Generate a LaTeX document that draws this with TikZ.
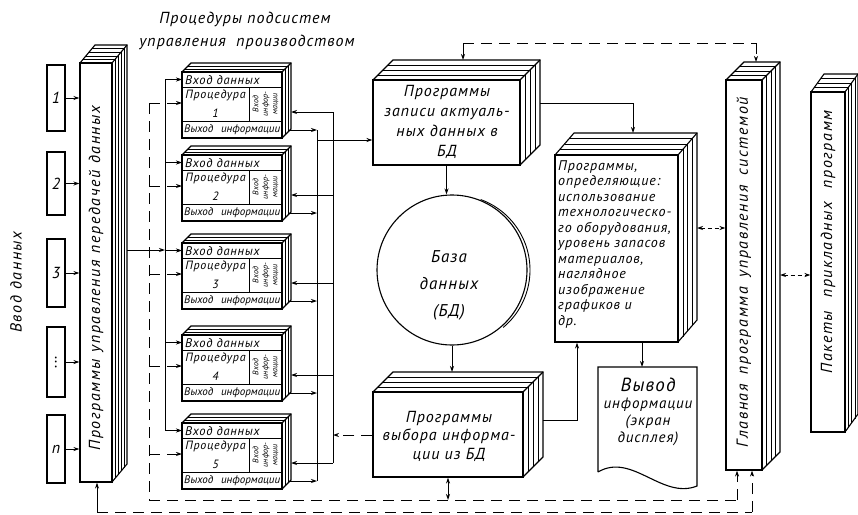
\documentclass[tikz,border=0pt]{standalone}
\usepackage{fontspec}
\usepackage{graphicx}
\setmainfont{PT Sans}
\newfontfamily\lsf[LetterSpace=6]{PT Sans}
\newfontfamily\lsw[LetterSpace=10]{PT Sans}
\usetikzlibrary{calc,fit,arrows.meta}

\tikzset{
 face/.style={draw, line width=1.1pt, inner sep=0pt, fill=white},
 pg/.style={line width=0.5pt},
 edge3d/.style={line width=1.1pt},
 ln/.style={line width=0.9pt},
 arr/.style={line width=0.9pt, -{Stealth[length=6pt,width=4pt]}},
 dln/.style={line width=0.9pt, dash pattern=on 11pt off 7pt},
 darr/.style={dln, -{Stealth[length=6pt,width=4pt]}},
 dbl/.style={line width=0.9pt, dash pattern=on 4pt off 3pt, {Stealth[length=6pt,width=4pt]}-{Stealth[length=6pt,width=4pt]}},
 sbl/.style={line width=0.9pt, {Stealth[length=6pt,width=4pt]}-{Stealth[length=6pt,width=4pt]}},
 ft7/.style={font=\itshape\fontsize{8}{9.5}\selectfont, inner sep=0pt},
 ft12/.style={font=\lsf\itshape\fontsize{12.5}{12}\selectfont, inner sep=0pt},
 ft13/.style={font=\lsf\itshape\fontsize{12}{19}\selectfont, inner sep=0pt},
 ftr/.style={font=\lsf\itshape\fontsize{14}{15.5}\selectfont, inner sep=0pt},
 ft16/.style={font=\lsw\itshape\fontsize{16}{18}\selectfont, inner sep=0pt},
 ftb/.style={font=\lsf\itshape\fontsize{16}{20}\selectfont, inner sep=0pt},
}

% name, x1, y1, x2, y2, dx, dy, pages
\newcommand\stackbox[8]{%
 \coordinate (#1-nw) at (#2,#3);
 \coordinate (#1-se) at (#4,#5);
 \coordinate (#1-top) at ({#2+#6},{#3-#7});
 \foreach \k in {1,...,#8}{
   \draw[pg] ({#2+\k*#6/(#8+1)},{#3-\k*#7/(#8+1)}) -- ({#4+\k*#6/(#8+1)},{#3-\k*#7/(#8+1)}) -- ({#4+\k*#6/(#8+1)},{#5-\k*#7/(#8+1)});
 }
 \draw[edge3d] (#2,#3) -- ({#2+#6},{#3-#7}) -- ({#4+#6},{#3-#7}) -- ({#4+#6},{#5-#7}) -- (#4,#5);
 \draw[edge3d] (#4,#3) -- ({#4+#6},{#3-#7});
 \node[face, fit=(#1-nw)(#1-se)] (#1) {};
}

% name, top y, number
\newcommand\procbox[3]{%
 \stackbox{#1}{182}{#2}{282}{#2+66}{9}{9}{2}
 \draw[ln] (182,{#2+15}) -- (282,{#2+15});
 \draw[ln] (182,{#2+49}) -- (282,{#2+49});
 \draw[ln] (249,{#2+15}) -- (249,{#2+49});
 \node[ft12, anchor=west] (#1-t1) at (185,{#2+8}) {Вход данных};
 \node[ft13, align=center] (#1-t2) at (215.5,{#2+32}) {Процедура\\#3};
 \node[ft7, rotate=90, align=center] (#1-t3) at (265.5,{#2+32}) {Вход\\инфор-\\мации};
 \node[font=\itshape\fontsize{11}{11}\selectfont, inner sep=0pt, anchor=west] (#1-t4) at (184,{#2+58}) {\makebox[96pt][s]{Выход информации}};
 \coordinate (#1-a) at (182,{#2+7.5});
 \coordinate (#1-b) at (182,{#2+31});
 \coordinate (#1-c) at (291,{#2+40});
 \coordinate (#1-d) at (290,{#2+58});
}

\begin{document}
\begin{tikzpicture}[x=1pt,y=-1pt]
\useasboundingbox (0,0) rectangle (858,514);

% title
\node[ftb] (title1) at (245,19) {Процедуры подсистем};
\node[ftb] (title2) at (247,42) {управления \ производством};

% input label
\node[ft16, rotate=90] (vvod) at (16,282) {Ввод данных};

% input boxes
\node[face, minimum width=18pt, minimum height=66pt, ftb] (in1) at (56,98) {1};
\node[face, minimum width=18pt, minimum height=63pt, ftb] (in2) at (56,183.5) {2};
\node[face, minimum width=18pt, minimum height=68pt, ftb] (in3) at (56,273) {3};
\node[face, minimum width=18pt, minimum height=70pt, ftb] (in4) at (56,362) {\rotatebox{90}{...}};
\node[face, minimum width=18pt, minimum height=68pt, ftb] (in5) at (56,449) {\textit{n}};

% left block
\stackbox{lb}{80}{63}{112}{482}{15}{18}{4}
\node[ft16, rotate=90] (lbt) at (96,278) {\makebox[345pt][s]{Программы управления передачей данных}};

\foreach \i in {in1,in2,in3,in4,in5}{
  \draw[arr] (\i.east) -- (\i.east -| lb.west);
}

% procedure boxes
\procbox{p1}{72}{1}
\procbox{p2}{155}{2}
\procbox{p3}{243}{3}
\procbox{p4}{335}{4}
\procbox{p5}{423}{5}

% buses
\coordinate (busA) at (165,0);
\coordinate (busB) at (149,0);
\coordinate (xa) at (317,0);
\coordinate (xb) at (333,0);

\coordinate (lbout) at (127,250);
\draw[arr] (lbout) -- (lbout -| busA);
\draw[ln] (busA |- p1-a) -- (busA |- p5-a);
\draw[dln] (busB |- p1-b) -- (149,500);
\draw[ln] (xa |- p1-d) -- (xa |- p5-d);
\draw[ln] (xb |- p1-c) -- (xb |- p5-c);
\foreach \p in {p1,p2,p3,p4,p5}{
  \draw[arr] (busA |- \p-a) -- (\p-a);
  \draw[darr] (busB |- \p-b) -- (\p-b);
  \draw[arr] (xb |- \p-c) -- (\p-c);
  \draw[arr] (\p-d) -- (xa |- \p-d);
}

% top block
\stackbox{tb}{373}{80}{520}{165}{20}{20}{3}
\node[ftb, align=center] (tbt) at (447,122) {Программы\\записи актуаль-\\ных данных в\\БД};
\coordinate (j1) at (317,140);
\draw[arr] (j1) -- (j1 -| tb.west);

% database
\node[draw, circle, minimum size=150pt, inner sep=0pt, line width=1.1pt] (db) at (452,270) {};
\draw[ln] ([xshift=3pt]db.center) ++(50:75) arc[start angle=50, end angle=-70, radius=75];
\node[align=center, inner sep=0pt, font=\lsf\itshape\fontsize{17}{27}\selectfont] (dbt) at (449,285) {База\\данных\\(БД)};
\draw[arr] (tb.south) -- (tb.south |- db.north);

% bottom block
\stackbox{bb}{373}{392}{523}{477}{20}{20}{3}
\node[align=center, inner sep=0pt, font=\lsf\itshape\fontsize{16}{18.5}\selectfont] (bbt) at (449,436) {Программы\\выбора информа-\\ции из БД};
\draw[arr] (db.south) -- (db.south |- bb-top);
\coordinate (j2) at (333,435);
\draw[darr] (bb.west |- j2) -- (j2);
\coordinate (bbl) at (448,500);
\draw[sbl] (bb.south) -- (bbl);

% right text block
\stackbox{rb}{555}{155}{678}{342}{19}{22}{3}
\node[ftr, align=left, anchor=north west] (rbt) at (558,160) {Программы,\\определяющие:\\использование\\технологическо-\\го оборудования,\\уровень запасов\\материалов,\\наглядное\\изображение\\графиков и\\др.};
\coordinate (t1) at (540,103);
\coordinate (t2) at (633,103);
\draw[arr] (t1) -- (t2) -- (t2 |- rb-top);
\coordinate (b1) at (543,420);
\coordinate (b2) at (577,420);
\draw[arr] (b1) -- (b2) -- (b2 |- rb.south);

% output document
\coordinate (doc-top) at (642,367);
\draw[edge3d] (598,472) -- (598,367) -- (697,367) -- (697,486) .. controls (662,500) and (632,452) .. (598,472);
\node[align=center, font=\lsf\itshape\fontsize{15}{17}\selectfont, inner sep=0pt] (doct) at (648,412) {{\fontsize{19}{19}\selectfont Вывод}\\информации\\(экран\\дисплея)};
\draw[arr] (rb.south -| doc-top) -- (doc-top);

% main program
\stackbox{gb}{726}{80}{762}{470}{18}{18}{3}
\node[ft16, rotate=90] (gbt) at (744,272) {\makebox[350pt][s]{Главная программа управления системой}};
\coordinate (r1) at (697,228);
\draw[dbl] (r1) -- (r1 -| gb.west);

% packages
\stackbox{pk}{811}{92}{845}{432}{13}{18}{3}
\node[ft16, rotate=90] (pkt) at (828,242) {\makebox[263pt][s]{Пакеты прикладных программ}};
\coordinate (g3) at (780,275);
\draw[dbl] (g3) -- (g3 -| pk.west);

% top dashed line
\coordinate (u1) at (463,43);
\coordinate (u2) at (756,43);
\draw[dln] (u1) -- (u2);
\draw[arr] (u1) -- (u1 |- tb-top);
\draw[darr] (u2) -- (u2 |- gb-top);

% bottom dashed lines
\coordinate (g1) at (737,500);
\coordinate (g2) at (752,512);
\coordinate (l2) at (97,512);
\draw[dln] (149,500) -- (g1);
\draw[darr] (g1) -- (g1 |- gb.south);
\draw[dln] (l2) -- (g2);
\draw[darr] (g2) -- (g2 |- gb.south);
\draw[arr] (l2) -- (l2 |- lb.south);
\end{tikzpicture}
\end{document}
